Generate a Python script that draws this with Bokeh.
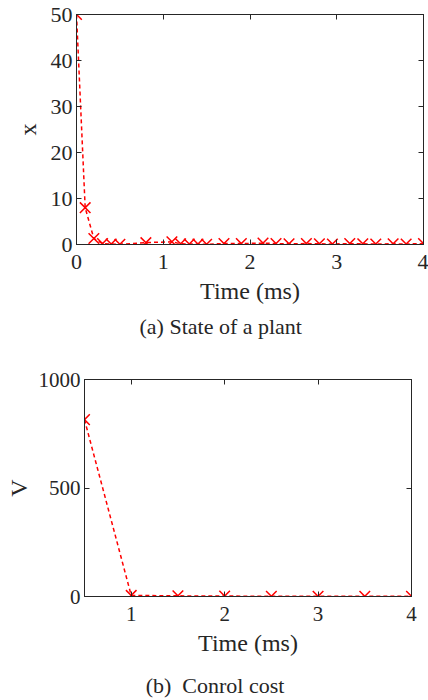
from bokeh.plotting import figure
from bokeh.layouts import column
from bokeh.models import LinearAxis, FixedTicker, Title, Range1d, Div
from bokeh.embed import file_html
from bokeh.resources import INLINE

# Plant state data
t_state = [0, 0.1, 0.2, 0.3, 0.4, 0.5, 0.8, 1.1, 1.2, 1.3, 1.4, 1.5, 1.7, 1.9,
           2.15, 2.3, 2.45, 2.65, 2.8, 2.95, 3.15, 3.3, 3.45, 3.65, 3.8, 4.0]
x_state = [50, 8.0, 1.3, 0.2, 0.1, 0.05, 0.4, 0.6, 0.15, 0.1, 0.1, 0.05, 0.2, 0.2,
           0.3, 0.2, 0.15, 0.2, 0.15, 0.1, 0.2, 0.15, 0.1, 0.15, 0.1, 0.2]
x_ticks_a = [0, 1, 2, 3, 4]
y_ticks_a = [0, 10, 20, 30, 40, 50]

# Control cost data
t_cost = [0.5, 1, 1.5, 2, 2.5, 3, 3.5, 4]
v_cost = [815, 5, 3, 2, 1, 1, 1, 1]
x_ticks_b = [1, 2, 3, 4]
y_ticks_b = [0, 500, 1000]

FONT = "Liberation Serif"
AX = "#262626"
RED = "#FF0000"


def mirror_axis(ticks):
    return LinearAxis(ticker=FixedTicker(ticks=ticks),
                      major_label_overrides={t: "" for t in ticks},
                      major_label_text_font_size="1px",
                      major_tick_in=5, major_tick_out=0, minor_tick_line_color=None,
                      axis_line_color=AX, major_tick_line_color=AX,
                      major_label_standoff=0)


def style(p, xt, yt, tick_size, label_size, xstand, ystand):
    for ax in p.xaxis + p.yaxis:
        ax.axis_line_color = AX
        ax.major_tick_line_color = AX
        ax.minor_tick_line_color = None
        ax.major_tick_in = 5
        ax.major_tick_out = 0
        ax.major_label_text_font = FONT
        ax.major_label_text_font_size = tick_size
        ax.major_label_text_color = AX
        ax.axis_label_text_font = FONT
        ax.axis_label_text_font_size = label_size
        ax.axis_label_text_font_style = "normal"
        ax.axis_label_text_color = AX
        ax.axis_label_text_line_height = 1.0
    p.xaxis.ticker = FixedTicker(ticks=xt)
    p.yaxis.ticker = FixedTicker(ticks=yt)
    p.xaxis.major_label_standoff = xstand
    p.yaxis.major_label_standoff = ystand
    p.add_layout(mirror_axis(xt), "above")
    p.add_layout(mirror_axis(yt), "right")
    p.xgrid.visible = False
    p.ygrid.visible = False
    p.outline_line_color = AX
    p.background_fill_color = "white"
    p.border_fill_color = "white"


# Figure (a)
pa = figure(width=428, height=345, output_backend="svg", toolbar_location=None,
            frame_align=False,
            x_range=Range1d(0, 4), y_range=Range1d(0, 50),
            min_border_left=76, min_border_right=5, min_border_top=14, min_border_bottom=101)
pa.xaxis.axis_label = "Time (ms)"
pa.yaxis.axis_label = "x"
style(pa, x_ticks_a, y_ticks_a, "22px", "24px", 10, 4)
pa.xaxis.axis_label_standoff = 6
pa.yaxis.axis_label_standoff = 7
pa.line(t_state, x_state, line_color=RED, line_width=1.5, line_dash="4 3")
pa.scatter(t_state, x_state, marker="x", size=15, line_color=RED, line_width=1.5)
cap_a = Title(text="(a)  State of a plant", align="left", offset=63, text_font=FONT,
              text_font_size="22px", text_font_style="normal", text_color=AX,
              text_line_height=1.0, standoff=10)
pa.add_layout(cap_a, "below")

# Figure (b)
pb = figure(width=428, height=320, output_backend="svg", toolbar_location=None,
            frame_align=False,
            x_range=Range1d(0.5, 4), y_range=Range1d(0, 1000),
            min_border_left=84, min_border_right=17, min_border_top=34, min_border_bottom=69)
pb.xaxis.axis_label = "Time (ms)"
pb.yaxis.axis_label = "V"
style(pb, x_ticks_b, y_ticks_b, "21px", "24px", 10, 4)
pb.xaxis.axis_label_standoff = 6
pb.yaxis.axis_label_standoff = 4
pb.line(t_cost, v_cost, line_color=RED, line_width=1.5, line_dash="4 3")
pb.scatter(t_cost, v_cost, marker="x", size=15, line_color=RED, line_width=1.5)

cap_b = Div(text="(b)&nbsp; Conrol cost", width=428, height=35,
            styles={"font-family": "'Liberation Serif', serif", "font-size": "22px",
                    "color": AX, "text-align": "center", "line-height": "22px",
                    "padding-top": "5px", "padding-right": "8px",
                    "box-sizing": "border-box", "width": "428px"})

layout = column(pa, pb, cap_b, spacing=0)
open("out.html", "w").write(file_html(layout, INLINE))
